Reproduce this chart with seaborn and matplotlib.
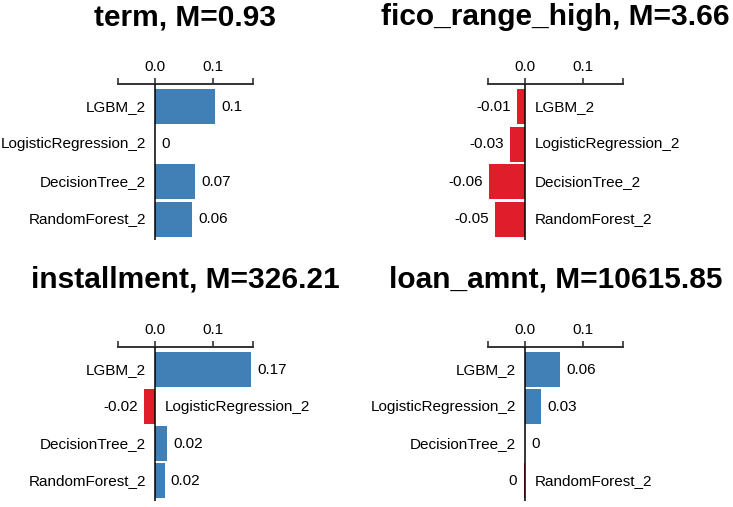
import numpy as np
import pandas as pd
import seaborn as sns
import matplotlib.pyplot as plt

models = ["LGBM_2", "LogisticRegression_2", "DecisionTree_2", "RandomForest_2"]
features = ["term", "fico_range_high", "installment", "loan_amnt"]
means = [0.93, 3.66, 326.21, 10615.85]
term_vals = [0.104, 0.0, 0.069, 0.064]
fico_vals = [-0.014, -0.027, -0.063, -0.052]
inst_vals = [0.166, -0.019, 0.02, 0.016]
loan_vals = [0.06, 0.027, 0.0, -0.003]
all_vals = [term_vals, fico_vals, inst_vals, loan_vals]

BLUE = "#4180b6"
RED = "#e01e2b"
XMIN, XMAX = -0.065, 0.17


def fmt(v):
    s = f"{v:.2f}"
    if float(s) == 0:
        return "0"
    return s.rstrip("0").rstrip(".")


sns.set_theme(style="white")
plt.rcParams["font.family"] = ["Liberation Sans", "DejaVu Sans"]
plt.rcParams["text.color"] = "black"

fig = plt.figure(figsize=(7.33, 5.07), dpi=100)
W, H = 733, 507
# axes boxes in pixels: left, top, width, height
boxes = [(118, 84, 135, 156), (488, 84, 135, 156),
         (118, 347, 135, 154), (488, 347, 135, 154)]

for k, (feat, m, vals) in enumerate(zip(features, means, all_vals)):
    l, t, w, h = boxes[k]
    ax = fig.add_axes([l / W, 1 - (t + h) / H, w / W, h / H])
    df = pd.DataFrame({"model": models, "value": vals,
                       "sign": ["pos" if v >= 0 else "neg" for v in vals]})
    sns.barplot(data=df, x="value", y="model", hue="sign",
                palette={"pos": BLUE, "neg": RED}, orient="h",
                width=0.93, legend=False, ax=ax, saturation=1,
                edgecolor="none", linewidth=0)
    ax.axvline(0, color="black", lw=1.1, zorder=5)
    ax.set_xlim(XMIN, XMAX)
    ax.set_ylim(3.55, -0.61)

    for i, v in enumerate(vals):
        if v >= 0:
            ax.annotate(models[i], (0, i), xytext=(-6.5, 0), textcoords="offset points",
                        ha="right", va="center", fontsize=11, color="black")
            ax.annotate(fmt(v), (v, i), xytext=(4.5, 0), textcoords="offset points",
                        ha="left", va="center", fontsize=11, color="black")
        else:
            ax.annotate(models[i], (0, i), xytext=(6.5, 0), textcoords="offset points",
                        ha="left", va="center", fontsize=11, color="black")
            ax.annotate(fmt(v), (v, i), xytext=(-4.5, 0), textcoords="offset points",
                        ha="right", va="center", fontsize=11, color="black")

    ax.xaxis.tick_top()
    ax.set_xticks([XMIN, 0, 0.1, XMAX])
    ax.set_xticklabels(["", "0.0", "0.1", ""], fontsize=11)
    ax.tick_params(axis="x", direction="out", length=4.5, width=1.2,
                   colors="#333333", pad=3, labelcolor="black")
    ax.set_yticks([])
    ax.set_xlabel("")
    ax.set_ylabel("")
    for s in ["left", "right", "bottom"]:
        ax.spines[s].set_visible(False)
    ax.spines["top"].set_color("#333333")
    ax.spines["top"].set_linewidth(1.4)

    ax.set_title(f"{feat}, M={m}", fontsize=21.5, fontweight="bold",
                 color="black", y=1 + 59 / h, pad=0)

fig.savefig("out.png", dpi=100)
